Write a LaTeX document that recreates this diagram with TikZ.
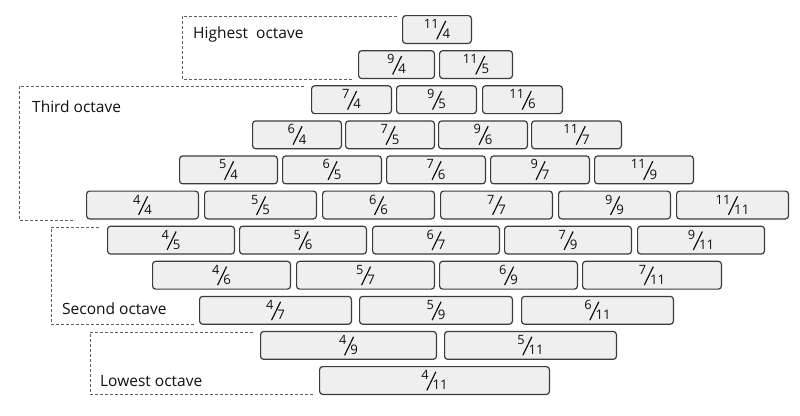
\documentclass[tikz,border=0pt]{standalone}
\usepackage{fontspec}
\usepackage{graphicx}
\setmainfont{Open Sans}
\definecolor{tilefill}{HTML}{EFEFEF}
\definecolor{tileline}{HTML}{3C3C3C}
\definecolor{dashcol}{HTML}{606060}
\definecolor{txt}{HTML}{101010}
\newcommand{\fslash}{\raisebox{-0.4pt}{\rotatebox{-26}{\rule{1.2pt}{20.6pt}}}}
\newcommand{\fr}[2]{{\fontsize{12.8}{13}\selectfont\raisebox{10.2pt}{#1}}\kern-2.4pt\fslash\kern-3.8pt{\fontsize{13.2}{13}\selectfont #2}}
\newcommand{\tile}[6]{\node[tile, minimum width={#3pt-#2pt-1.2pt}] (#1) at ({(#2+#3)/2},{29.5+35.1*(#4-1)}) {\fr{#5}{#6}};}
\tikzset{
  tile/.style={draw=tileline, fill=tilefill, line width=1.2pt, rounded corners=3pt,
    minimum height=27.8pt, inner sep=0pt, text=txt},
  dashline/.style={draw=dashcol, line width=0.9pt, dash pattern=on 3pt off 2pt},
  lbl/.style={font=\fontsize{15.5}{17}\selectfont, text=txt, inner sep=0pt, anchor=base west}
}
\begin{document}
\begin{tikzpicture}[x=1pt,y=-1pt]
\useasboundingbox[fill=white] (0,0) rectangle (800,415);
% dashed octave outlines
\draw[dashline] (397,16) -- (182,16) -- (182,79) -- (352,79);
\draw[dashline] (304,86) -- (19,86) -- (19,220) -- (75,220);
\draw[dashline] (99,227) -- (51,227) -- (51,324) -- (194,324);
\draw[dashline] (253,332) -- (90,332) -- (90,394) -- (315,394);
% labels
\node[lbl] (lhigh) at (193,38) {Highest\ \ octave};
\node[lbl] (lthird) at (32,112) {Third octave};
\node[lbl] (lsecond) at (62,314) {Second octave};
\node[lbl] (llow) at (100,386) {Lowest octave};
% row 1
\tile{t11-4}{402}{472}{1}{11}{4}
% row 2
\tile{t9-4}{358}{435}{2}{9}{4}
\tile{t11-5}{439}{513}{2}{11}{5}
% row 3
\tile{t7-4}{311}{392}{3}{7}{4}
\tile{t9-5}{396}{477}{3}{9}{5}
\tile{t11-6}{482}{563}{3}{11}{6}
% row 4
\tile{t6-4}{252}{342}{4}{6}{4}
\tile{t7-5}{345}{435}{4}{7}{5}
\tile{t9-6}{438}{528}{4}{9}{6}
\tile{t11-7}{531}{622}{4}{11}{7}
% row 5
\tile{t5-4}{179}{278}{5}{5}{4}
\tile{t6-5}{282}{382}{5}{6}{5}
\tile{t7-6}{386}{486}{5}{7}{6}
\tile{t9-7}{490}{590}{5}{9}{7}
\tile{t11-9}{594}{694}{5}{11}{9}
% row 6
\tile{t4-4}{86}{199}{6}{4}{4}
\tile{t5-5}{204}{317}{6}{5}{5}
\tile{t6-6}{322}{435}{6}{6}{6}
\tile{t7-7}{440}{553}{6}{7}{7}
\tile{t9-9}{558}{671}{6}{9}{9}
\tile{t11-11}{676}{789}{6}{11}{11}
% row 7
\tile{t4-5}{107}{235}{7}{4}{5}
\tile{t5-6}{239}{367}{7}{5}{6}
\tile{t6-7}{372}{500}{7}{6}{7}
\tile{t7-9}{504}{632}{7}{7}{9}
\tile{t9-11}{637}{765}{7}{9}{11}
% row 8
\tile{t4-6}{152}{291}{8}{4}{6}
\tile{t5-7}{296}{435}{8}{5}{7}
\tile{t6-9}{439}{578}{8}{6}{9}
\tile{t7-11}{582}{722}{8}{7}{11}
% row 9
\tile{t4-7}{199}{352}{9}{4}{7}
\tile{t5-9}{359}{513}{9}{5}{9}
\tile{t6-11}{521}{674}{9}{6}{11}
% row 10
\tile{t4-9}{260}{437}{10}{4}{9}
\tile{t5-11}{444}{617}{10}{5}{11}
% row 11
\tile{t4-11}{319}{550}{11}{4}{11}
\end{tikzpicture}
\end{document}
